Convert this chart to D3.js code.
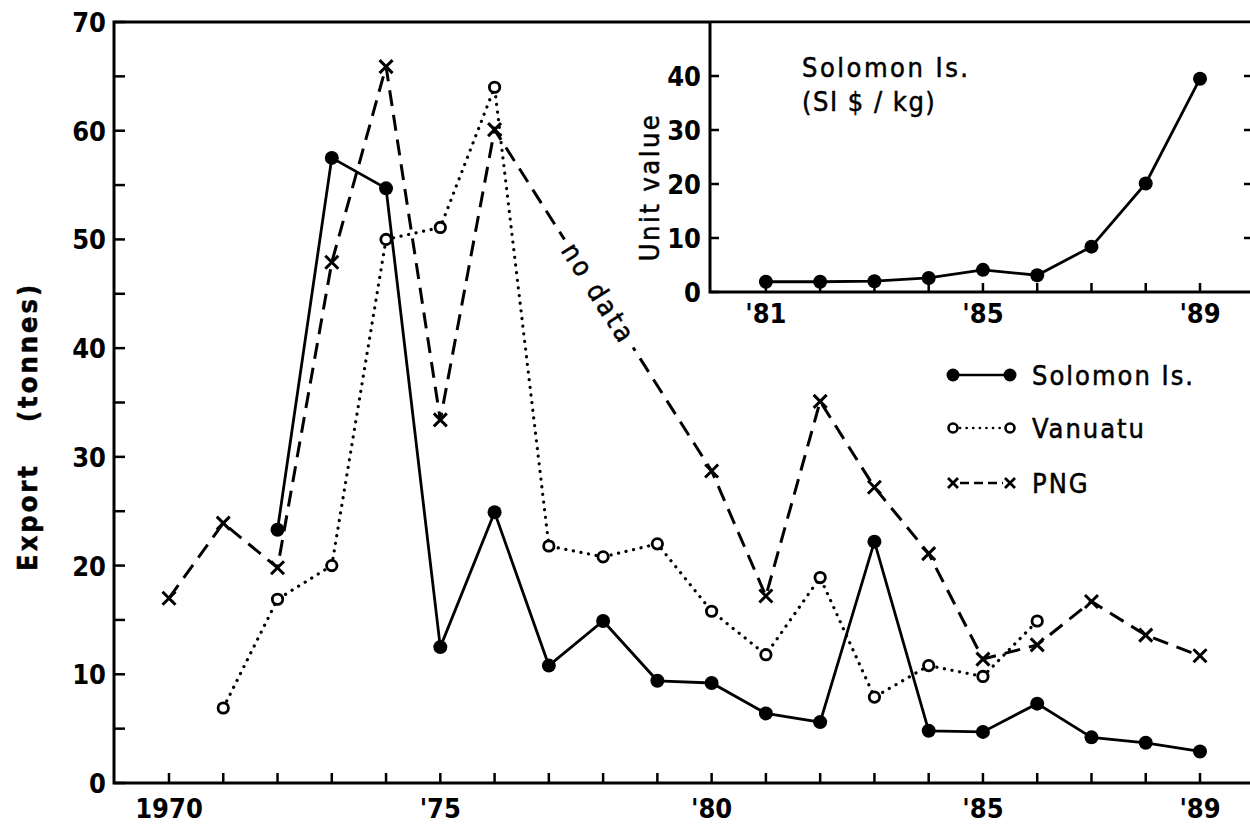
<!DOCTYPE html>
<html>
<head>
<meta charset="utf-8">
<script src="https://cdn.jsdelivr.net/npm/d3@7"></script>
<style>
  body { margin: 0; background: #fff; }
  svg { display: block; }
  .tick-lab { font-family: "Liberation Sans Narrow", "DejaVu Sans Condensed", sans-serif; font-weight: bold; font-size: 27px; fill: #000; }
  .txt { font-family: "DejaVu Sans Condensed", "DejaVu Sans", sans-serif; font-size: 27px; fill: #000; letter-spacing: 2px; stroke: #000; stroke-width: 0.5px; }
</style>
</head>
<body>
<div id="chart"></div>
<script>
// export (tonnes)
var solYears = [1972, 1973, 1974, 1975, 1976, 1977, 1978, 1979, 1980, 1981, 1982, 1983, 1984, 1985, 1986, 1987, 1988, 1989];
var solomon = [23.3, 57.5, 54.7, 12.5, 24.9, 10.8, 14.9, 9.4, 9.2, 6.4, 5.6, 22.2, 4.8, 4.7, 7.3, 4.2, 3.7, 2.9];

var vanYears = [1971, 1972, 1973, 1974, 1975, 1976, 1977, 1978, 1979, 1980, 1981, 1982, 1983, 1984, 1985, 1986];
var vanuatu = [6.9, 16.9, 20.0, 50.0, 51.1, 64.0, 21.8, 20.8, 22.0, 15.8, 11.8, 18.9, 7.9, 10.8, 9.8, 14.9];

// 1977-79 no data for PNG
var pngYears = [1970, 1971, 1972, 1973, 1974, 1975, 1976, 1977, 1978, 1979, 1980, 1981, 1982, 1983, 1984, 1985, 1986, 1987, 1988, 1989];
var png = [17.0, 23.9, 19.8, 47.9, 65.9, 33.4, 60.1, null, null, null, 28.7, 17.2, 35.1, 27.2, 21.1, 11.4, 12.7, 16.7, 13.6, 11.7];

// inset: unit value Solomon Is. (SI$/kg)
var unitYears = [1981, 1982, 1983, 1984, 1985, 1986, 1987, 1988, 1989];
var unitValue = [1.9, 1.9, 2.0, 2.6, 4.1, 3.1, 8.4, 20.1, 39.5];

var xTickYears = d3.range(1970, 1990);
var xTickLabels = {1970: "1970", 1975: "'75", 1980: "'80", 1985: "'85", 1989: "'89"};
var yTicks = d3.range(0, 71, 5);
var insetYTicks = [0, 10, 20, 30, 40];
var insetXLabels = {1981: "'81", 1985: "'85", 1989: "'89"};

var W = 1250, H = 825;
var svg = d3.select("#chart").append("svg").attr("width", W).attr("height", H);

var x = d3.scaleLinear().domain([1970, 1989]).range([169, 1200]);
var y = d3.scaleLinear().domain([0, 70]).range([783, 22]);
var axisX0 = 114, axisRight = 1252;

// frame
svg.append("path")
    .attr("d", "M" + axisRight + "," + y(70) + "H" + axisX0 + "V" + y(0) + "H" + axisRight)
    .attr("fill", "none").attr("stroke", "#000").attr("stroke-width", 3);

// y ticks every 5, labels every 10
svg.selectAll(".ytick").data(yTicks).enter().append("line")
    .attr("x1", axisX0).attr("x2", axisX0 + 11)
    .attr("y1", function(d) { return y(d); }).attr("y2", function(d) { return y(d); })
    .attr("stroke", "#000").attr("stroke-width", 2.5);
svg.selectAll(".ylab").data(yTicks.filter(function(d) { return d % 10 == 0; })).enter().append("text")
    .attr("class", "tick-lab")
    .attr("x", 106).attr("y", function(d) { return y(d) + 10; })
    .attr("text-anchor", "end")
    .text(function(d) { return d; });

// x ticks
svg.selectAll(".xtick").data(xTickYears).enter().append("line")
    .attr("x1", function(d) { return x(d); }).attr("x2", function(d) { return x(d); })
    .attr("y1", y(0)).attr("y2", y(0) - 10)
    .attr("stroke", "#000").attr("stroke-width", 2.5);
svg.selectAll(".xlab").data(Object.keys(xTickLabels)).enter().append("text")
    .attr("class", "tick-lab")
    .attr("x", function(d) { return x(+d); }).attr("y", 818)
    .attr("text-anchor", "middle")
    .text(function(d) { return xTickLabels[d]; });

// y title
svg.append("text").attr("class", "txt")
    .attr("transform", "translate(37,517) rotate(-90)")
    .attr("text-anchor", "middle").attr("font-weight", "bold").style("letter-spacing", "3px")
    .text("Export");
svg.append("text").attr("class", "txt")
    .attr("transform", "translate(37,352) rotate(-90)")
    .attr("text-anchor", "middle").attr("font-weight", "bold").style("letter-spacing", "3px")
    .text("(tonnes)");

function pts(years, vals) {
    var out = [];
    for (var i = 0; i < years.length; i++) {
        if (vals[i] != null) out.push([years[i], vals[i]]);
    }
    return out;
}

var line = d3.line().x(function(d) { return x(d[0]); }).y(function(d) { return y(d[1]); });

var solPts = pts(solYears, solomon),
    vanPts = pts(vanYears, vanuatu),
    pngPts = pts(pngYears, png);

// PNG dashed
svg.append("path").attr("d", line(pngPts))
    .attr("fill", "none").attr("stroke", "#000").attr("stroke-width", 3)
    .attr("stroke-dasharray", "16 9");

// "no data" label on the PNG gap 1976-1980
var p1 = [x(1976), y(60.1)], p2 = [x(1980), y(28.7)];
var ang = Math.atan2(p2[1] - p1[1], p2[0] - p1[0]) * 180 / Math.PI;
var cx = p1[0] + (p2[0] - p1[0]) * 0.48, cy = p1[1] + (p2[1] - p1[1]) * 0.48;
svg.append("rect")
    .attr("transform", "translate(" + cx + "," + cy + ") rotate(" + ang + ")")
    .attr("x", -64).attr("y", -6).attr("width", 128).attr("height", 12).attr("fill", "#fff");
svg.append("text").attr("class", "txt")
    .attr("transform", "translate(" + cx + "," + cy + ") rotate(" + ang + ")")
    .attr("text-anchor", "middle").attr("dy", "0.35em")
    .style("letter-spacing", "3px")
    .text("no data");

// Vanuatu dotted
svg.append("path").attr("d", line(vanPts))
    .attr("fill", "none").attr("stroke", "#000").attr("stroke-width", 3.2)
    .attr("stroke-linecap", "round").attr("stroke-dasharray", "0.1 7.6");

// Solomon solid
svg.append("path").attr("d", line(solPts))
    .attr("fill", "none").attr("stroke", "#000").attr("stroke-width", 2.8);

// markers
var cross = "M-6.5,-6.5L6.5,6.5M-6.5,6.5L6.5,-6.5";
svg.selectAll(".pngm").data(pngPts).enter().append("path")
    .attr("transform", function(d) { return "translate(" + x(d[0]) + "," + y(d[1]) + ")"; })
    .attr("d", cross).attr("stroke", "#000").attr("stroke-width", 3);
svg.selectAll(".vanm").data(vanPts).enter().append("circle")
    .attr("cx", function(d) { return x(d[0]); }).attr("cy", function(d) { return y(d[1]); })
    .attr("r", 5.2).attr("fill", "#fff").attr("stroke", "#000").attr("stroke-width", 2.8);
svg.selectAll(".solm").data(solPts).enter().append("circle")
    .attr("cx", function(d) { return x(d[0]); }).attr("cy", function(d) { return y(d[1]); })
    .attr("r", 7).attr("fill", "#000");

// legend
var legY = [375, 428, 483], legX1 = 953, legX2 = 1010;
var leg = svg.append("g");
leg.append("line").attr("x1", legX1).attr("x2", legX2).attr("y1", legY[0]).attr("y2", legY[0])
    .attr("stroke", "#000").attr("stroke-width", 2.6);
leg.selectAll(".ls").data([legX1, legX2]).enter().append("circle")
    .attr("cx", function(d) { return d; }).attr("cy", legY[0]).attr("r", 6.5).attr("fill", "#000");
leg.append("line").attr("x1", legX1 + 7).attr("x2", legX2 - 7).attr("y1", legY[1]).attr("y2", legY[1])
    .attr("stroke", "#000").attr("stroke-width", 2.6).attr("stroke-linecap", "round").attr("stroke-dasharray", "0.1 6.5");
leg.selectAll(".lv").data([legX1, legX2]).enter().append("circle")
    .attr("cx", function(d) { return d; }).attr("cy", legY[1]).attr("r", 4.5)
    .attr("fill", "#fff").attr("stroke", "#000").attr("stroke-width", 2.6);
leg.append("line").attr("x1", legX1 + 7).attr("x2", legX2 - 7).attr("y1", legY[2]).attr("y2", legY[2])
    .attr("stroke", "#000").attr("stroke-width", 2.6).attr("stroke-dasharray", "9 5");
leg.selectAll(".lp").data([legX1, legX2]).enter().append("path")
    .attr("transform", function(d) { return "translate(" + d + "," + legY[2] + ")"; })
    .attr("d", "M-5,-5L5,5M-5,5L5,-5").attr("stroke", "#000").attr("stroke-width", 2.8);
leg.selectAll(".lt").data(["Solomon Is.", "Vanuatu", "PNG"]).enter().append("text")
    .attr("class", "txt").attr("x", 1032)
    .attr("y", function(d, i) { return legY[i] + 10; })
    .text(function(d) { return d; });

// ---- inset ----
var inL = 710, inB = 292;
var yi = d3.scaleLinear().domain([0, 50]).range([inB, y(70)]);
var inset = svg.append("g");
inset.append("rect").attr("x", inL).attr("y", y(70) + 1.5).attr("width", W - inL).attr("height", inB - y(70) - 1.5)
    .attr("fill", "#fff");
inset.append("path").attr("d", "M" + inL + "," + y(70) + "V" + inB + "H" + axisRight)
    .attr("fill", "none").attr("stroke", "#000").attr("stroke-width", 3);
inset.selectAll(".iyt").data(insetYTicks).enter().append("line")
    .attr("x1", inL).attr("x2", inL + 9)
    .attr("y1", function(d) { return yi(d); }).attr("y2", function(d) { return yi(d); })
    .attr("stroke", "#000").attr("stroke-width", 2.5);
// right-hand ticks at the picture edge
inset.selectAll(".iyr").data(insetYTicks.slice(1)).enter().append("line")
    .attr("x1", W - 6).attr("x2", W)
    .attr("y1", function(d) { return yi(d); }).attr("y2", function(d) { return yi(d); })
    .attr("stroke", "#000").attr("stroke-width", 2.5);
inset.selectAll(".iyl").data(insetYTicks).enter().append("text")
    .attr("class", "tick-lab")
    .attr("x", 701).attr("y", function(d) { return yi(d) + 10; })
    .attr("text-anchor", "end")
    .text(function(d) { return d; });
inset.selectAll(".ixt").data(unitYears).enter().append("line")
    .attr("x1", function(d) { return x(d); }).attr("x2", function(d) { return x(d); })
    .attr("y1", inB).attr("y2", inB - 9)
    .attr("stroke", "#000").attr("stroke-width", 2.5);
inset.selectAll(".ixl").data(Object.keys(insetXLabels)).enter().append("text")
    .attr("class", "tick-lab")
    .attr("x", function(d) { return x(+d); }).attr("y", 323)
    .attr("text-anchor", "middle")
    .text(function(d) { return insetXLabels[d]; });

var unitPts = pts(unitYears, unitValue);
var lineI = d3.line().x(function(d) { return x(d[0]); }).y(function(d) { return yi(d[1]); });
inset.append("path").attr("d", lineI(unitPts))
    .attr("fill", "none").attr("stroke", "#000").attr("stroke-width", 2.8);
inset.selectAll(".um").data(unitPts).enter().append("circle")
    .attr("cx", function(d) { return x(d[0]); }).attr("cy", function(d) { return yi(d[1]); })
    .attr("r", 7).attr("fill", "#000");

inset.append("text").attr("class", "txt").attr("x", 802).attr("y", 77)
    .style("letter-spacing", "2.5px").text("Solomon Is.");
inset.append("text").attr("class", "txt").attr("x", 802).attr("y", 111)
    .style("letter-spacing", "1.5px").text("(SI $ / kg)");
inset.append("text").attr("class", "txt")
    .attr("transform", "translate(659,187) rotate(-90)")
    .attr("text-anchor", "middle").style("letter-spacing", "2.5px")
    .text("Unit value");
</script>
</body>
</html>
